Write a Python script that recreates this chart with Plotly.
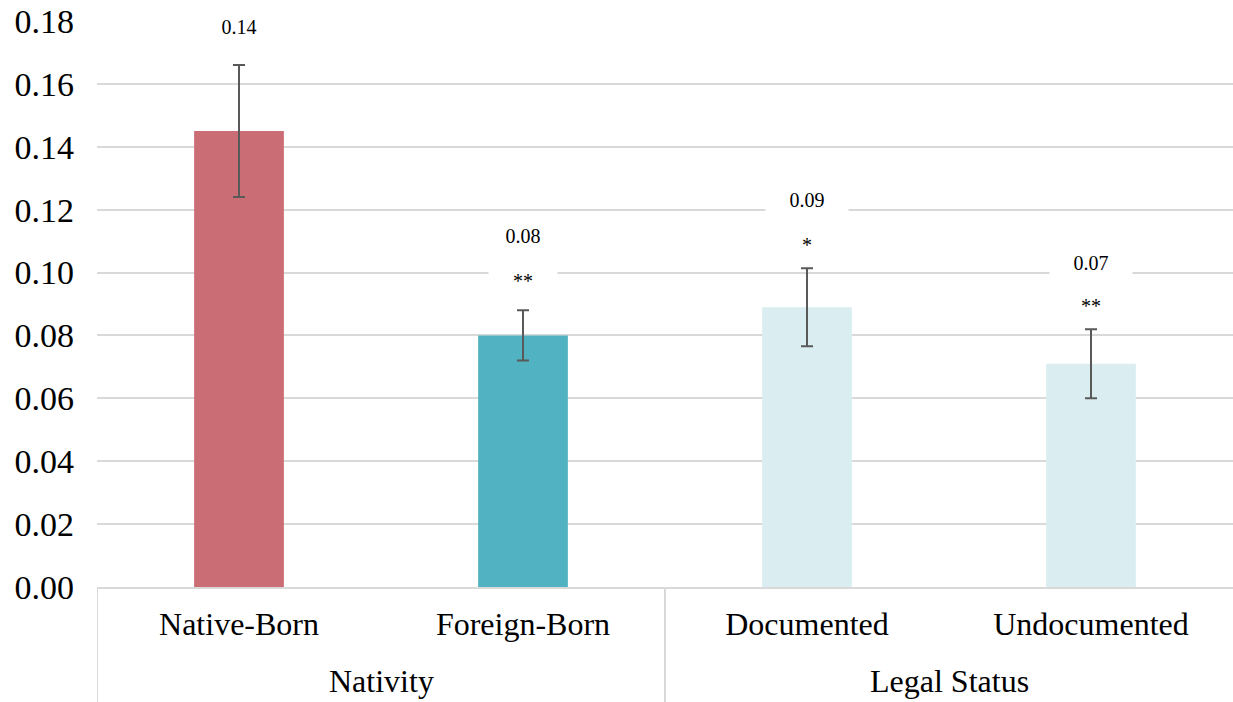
import plotly.graph_objects as go

groups = ["Nativity", "Nativity", "Legal Status", "Legal Status"]
categories = ["Native-Born", "Foreign-Born", "Documented", "Undocumented"]
values = [0.145, 0.080, 0.089, 0.071]
errors = [0.021, 0.008, 0.0124, 0.011]
value_labels = ["0.14", "0.08", "0.09", "0.07"]
significance = ["", "**", "*", "**"]
bar_colors = ["#cb6d74", "#51b3c1", "#daeef1", "#daeef1"]

FONT = "Liberation Serif, Times New Roman, serif"
GRID = "#d9d9d9"

# group centres and left edges, derived from the category/group lists
group_names, group_pos = [], []
for i, g in enumerate(groups):
    if g not in group_names:
        group_names.append(g)
        group_pos.append([])
    group_pos[group_names.index(g)].append(i)
group_centres = [sum(p) / len(p) for p in group_pos]
group_edges = [p[0] - 0.5 for p in group_pos]

W, H, T, B, L = 1233, 702, 21, 115, 97
plot_h = H - T - B

fig = go.Figure()
fig.add_trace(go.Bar(
    x=categories,
    y=values,
    width=0.316,
    marker=dict(color=bar_colors, line=dict(width=0)),
    error_y=dict(type="data", array=errors, visible=True,
                 color="#595959", thickness=2, width=6),
    hoverinfo="skip",
))

label_shift = [38, 74, 68, 66]
label_box_w = [94, 78, 78, 78]
sig_shift = [0, 29, 23, 23]
for i, (v, e, lab, sig) in enumerate(zip(values, errors, value_labels, significance)):
    fig.add_annotation(x=i, y=v + e, yref="y", xref="x", text=lab,
                       showarrow=False, yanchor="middle", yshift=label_shift[i],
                       font=dict(family=FONT, size=20, color="#000000"),
                       bgcolor="#ffffff", width=label_box_w[i], borderpad=2)
    if sig:
        fig.add_annotation(x=i, y=v + e, yref="y", xref="x", text=sig,
                           showarrow=False, yanchor="middle", yshift=sig_shift[i],
                           font=dict(family=FONT, size=20, color="#000000"),
                           bgcolor="#ffffff", width=64, borderpad=2)

# group row labels
for name, c in zip(group_names, group_centres):
    fig.add_annotation(x=c, xref="x", y=-94 / plot_h, yref="paper",
                       text=name, showarrow=False, yanchor="middle",
                       font=dict(family=FONT, size=32, color="#000000"))

# group dividers below the axis
for edge in group_edges:
    fig.add_shape(type="line", xref="x", yref="paper",
                  x0=edge, x1=edge, y0=0, y1=-B / plot_h,
                  line=dict(color=GRID, width=2), layer="above")

fig.update_layout(
    width=W, height=H,
    margin=dict(l=L, r=0, t=T, b=B),
    paper_bgcolor="#ffffff", plot_bgcolor="#ffffff",
    showlegend=False,
    font=dict(family=FONT, size=32, color="#000000"),
)
fig.update_yaxes(
    range=[0, 0.18], dtick=0.02, tickformat=".2f",
    showgrid=True, gridcolor=GRID, gridwidth=2,
    zeroline=False, showline=False, ticks="",
    ticklabelstandoff=22,
    tickfont=dict(family=FONT, size=34, color="#000000"),
)
fig.update_xaxes(
    type="category", range=[-0.5, len(categories) - 0.5],
    showline=True, linecolor=GRID, linewidth=2,
    ticks="", showgrid=False,
    ticklabelstandoff=8,
    tickfont=dict(family=FONT, size=32, color="#000000"),
)

fig.write_html("out.html", config={"displayModeBar": False},
               post_script="document.body.style.margin='0';")
